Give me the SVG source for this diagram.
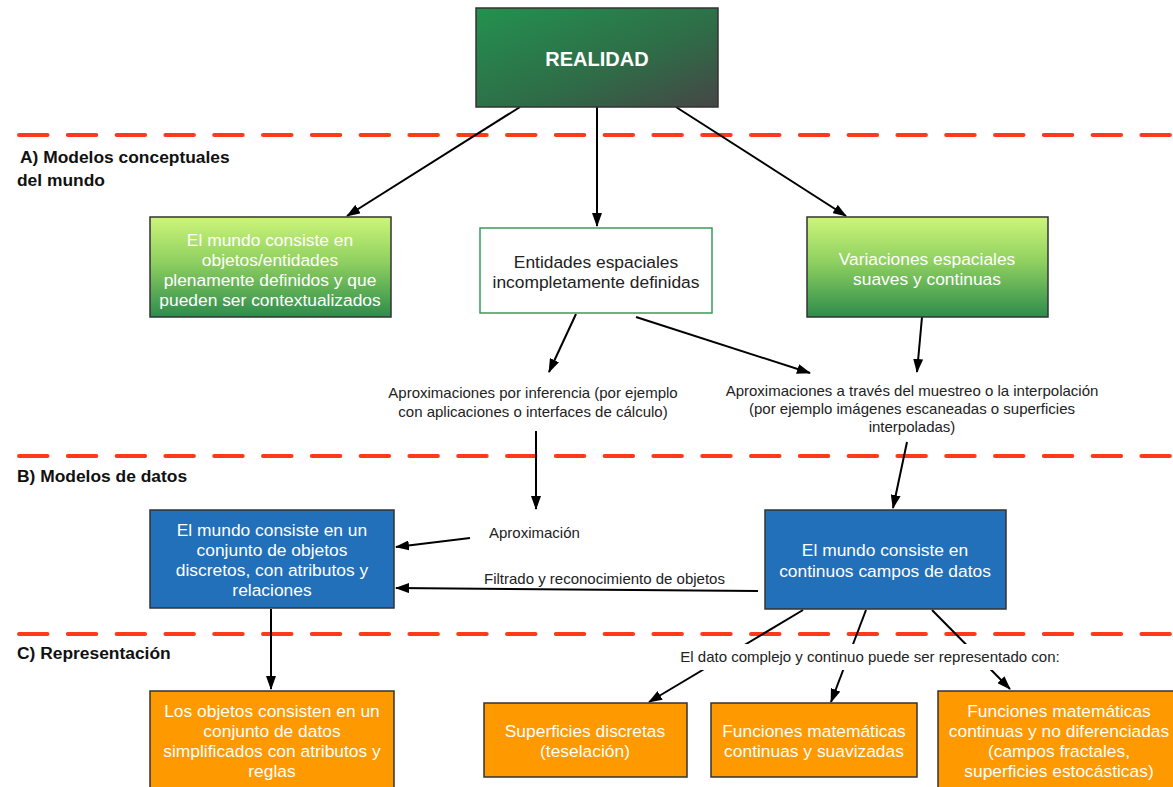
<svg xmlns="http://www.w3.org/2000/svg" width="1173" height="787" viewBox="0 0 1173 787">
<defs>
<linearGradient id="gReal" x1="0" y1="0" x2="1" y2="1">
<stop offset="0" stop-color="#23914f"/>
<stop offset="0.6" stop-color="#2f6b47"/>
<stop offset="1" stop-color="#464646"/>
</linearGradient>
<linearGradient id="gGreen" x1="0" y1="0" x2="0" y2="1">
<stop offset="0" stop-color="#cdf57a"/>
<stop offset="0.45" stop-color="#8fd060"/>
<stop offset="1" stop-color="#2e8c4c"/>
</linearGradient>
<marker id="ah" viewBox="0 0 14 10" refX="13" refY="5" markerWidth="14" markerHeight="10" markerUnits="userSpaceOnUse" orient="auto">
<path d="M0,0 L14,5 L0,10 Z" fill="#000"/>
</marker>
<style>
.dash{stroke:#ff3a1a;stroke-width:4;stroke-dasharray:28.5 20.3;stroke-linecap:round;fill:none}
.hdr{font-family:"Liberation Sans",Arial,sans-serif;font-weight:bold;font-size:17.4px;fill:#111}
.bt{font-family:"Liberation Sans",Arial,sans-serif;font-size:17.4px;fill:#fff;text-anchor:middle}
.title{font-family:"Liberation Sans",Arial,sans-serif;font-size:20px;font-weight:bold;fill:#fff;text-anchor:middle}
.dt{font-family:"Liberation Sans",Arial,sans-serif;font-size:17.4px;fill:#222;text-anchor:middle}
.lt{font-family:"Liberation Sans",Arial,sans-serif;font-size:15px;fill:#222}
.c{fill:none;stroke:#000;stroke-width:2;marker-end:url(#ah)}
.box{stroke:#333;stroke-width:1.5}
.blue{fill:#2270b9}
.orange{fill:#ff9900}
</style>
</defs>
<rect width="1173" height="787" fill="#fff"/>
<g id="separators">
<line class="dash" x1="19" y1="135" x2="1173" y2="135"/>
<line class="dash" x1="19" y1="456" x2="1173" y2="456"/>
<line class="dash" x1="19" y1="634" x2="1173" y2="634"/>
</g>
<g id="section-headers">
<text class="hdr" x="20" y="163">A) Modelos conceptuales</text>
<text class="hdr" x="17" y="186">del mundo</text>
<text class="hdr" x="17" y="482">B) Modelos de datos</text>
<text class="hdr" x="17" y="659">C) Representación</text>
</g>
<g id="connectors">
<line class="c" x1="520" y1="107" x2="347" y2="216"/>
<line class="c" x1="597" y1="107" x2="597" y2="226"/>
<line class="c" x1="676" y1="107" x2="846" y2="216"/>
<line class="c" x1="576" y1="314" x2="549" y2="372"/>
<line class="c" x1="636" y1="317" x2="810" y2="373"/>
<line class="c" x1="922" y1="317" x2="917" y2="372"/>
<line class="c" x1="536" y1="431" x2="536" y2="509"/>
<line class="c" x1="907" y1="442" x2="893" y2="508"/>
<line class="c" x1="470" y1="538" x2="396" y2="547"/>
<line class="c" x1="758" y1="591" x2="396" y2="588"/>
<line class="c" x1="271" y1="609" x2="271" y2="689"/>
<line class="c" x1="803" y1="610" x2="649" y2="702"/>
<line class="c" x1="866" y1="610" x2="831" y2="702"/>
<line class="c" x1="932" y1="610" x2="1010" y2="689"/>
</g>
<g id="realidad">
<rect class="box" x="476" y="8" width="242" height="99" fill="url(#gReal)"/>
<text class="title" x="597" y="66">REALIDAD</text>
</g>
<g id="objetos-definidos">
<rect class="box" x="150" y="217" width="241" height="100" fill="url(#gGreen)"/>
<text class="bt" x="270" y="246">El mundo consiste en</text>
<text class="bt" x="270" y="266">objetos/entidades</text>
<text class="bt" x="270" y="286">plenamente definidos y que</text>
<text class="bt" x="270" y="306">pueden ser contextualizados</text>
</g>
<g id="entidades-incompletas">
<rect x="480" y="228" width="232" height="85" fill="#fff" stroke="#3a9a5a" stroke-width="1.5"/>
<text class="dt" x="596" y="268">Entidades espaciales</text>
<text class="dt" x="596" y="288">incompletamente definidas</text>
</g>
<g id="variaciones">
<rect class="box" x="807" y="217" width="241" height="100" fill="url(#gGreen)"/>
<text class="bt" x="927" y="265">Variaciones espaciales</text>
<text class="bt" x="927" y="285">suaves y continuas</text>
</g>
<g id="aprox-inferencia">
<text class="lt" x="533" y="398" text-anchor="middle">Aproximaciones por inferencia (por ejemplo</text>
<text class="lt" x="533" y="417" text-anchor="middle">con aplicaciones o interfaces de cálculo)</text>
</g>
<g id="aprox-muestreo">
<text class="lt" x="912" y="396" text-anchor="middle">Aproximaciones a través del muestreo o la interpolación</text>
<text class="lt" x="912" y="414" text-anchor="middle">(por ejemplo imágenes escaneadas o superficies</text>
<text class="lt" x="912" y="432" text-anchor="middle">interpoladas)</text>
</g>
<g id="objetos-discretos">
<rect class="box blue" x="150" y="510" width="244" height="98"/>
<text class="bt" x="272" y="536">El mundo consiste en un</text>
<text class="bt" x="272" y="556">conjunto de objetos</text>
<text class="bt" x="272" y="576">discretos, con atributos y</text>
<text class="bt" x="272" y="596">relaciones</text>
</g>
<g id="aproximacion-label">
<text class="lt" x="489" y="538">Aproximación</text>
</g>
<g id="filtrado-label">
<text class="lt" x="484" y="584">Filtrado y reconocimiento de objetos</text>
</g>
<g id="campos-continuos">
<rect class="box blue" x="765" y="510" width="241" height="99"/>
<text class="bt" x="885" y="556">El mundo consiste en</text>
<text class="bt" x="885" y="577">continuos campos de datos</text>
</g>
<g id="dato-complejo-label">
<rect x="668" y="644" width="404" height="26" fill="#fff"/>
<text class="lt" x="870" y="662" text-anchor="middle">El dato complejo y continuo puede ser representado con:</text>
</g>
<g id="objetos-simplificados">
<rect class="box orange" x="150" y="691" width="244" height="100"/>
<text class="bt" x="272" y="717">Los objetos consisten en un</text>
<text class="bt" x="272" y="737">conjunto de datos</text>
<text class="bt" x="272" y="757">simplificados con atributos y</text>
<text class="bt" x="272" y="777">reglas</text>
</g>
<g id="superficies-discretas">
<rect class="box orange" x="484" y="703" width="203" height="74"/>
<text class="bt" x="585" y="737">Superficies discretas</text>
<text class="bt" x="585" y="757">(teselación)</text>
</g>
<g id="funciones-suavizadas">
<rect class="box orange" x="711" y="703" width="206" height="74"/>
<text class="bt" x="814" y="737">Funciones matemáticas</text>
<text class="bt" x="814" y="757">continuas y suavizadas</text>
</g>
<g id="funciones-no-diferenciadas">
<rect class="box orange" x="938" y="691" width="240" height="100"/>
<text class="bt" x="1059" y="717">Funciones matemáticas</text>
<text class="bt" x="1059" y="737">continuas y no diferenciadas</text>
<text class="bt" x="1059" y="757">(campos fractales,</text>
<text class="bt" x="1059" y="777">superficies estocásticas)</text>
</g>
</svg>
